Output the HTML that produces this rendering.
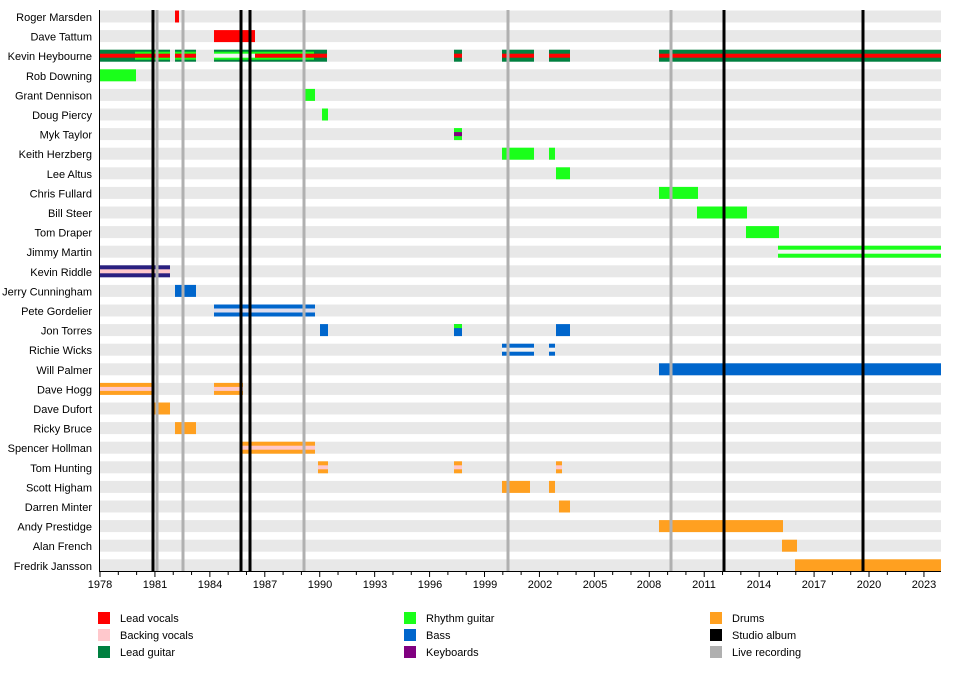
<!DOCTYPE html>
<html><head><meta charset="utf-8"><style>
body{margin:0;background:#fff;width:960px;height:670px;overflow:hidden}
svg{font-family:"Liberation Sans",Arial,sans-serif;font-size:11px}
</style></head><body>
<svg id="s" width="960" height="670" xmlns="http://www.w3.org/2000/svg">
<g id="bg"></g><g id="bars"></g><g id="vl"></g>
<g text-anchor="end" fill="#000">
<text x="92" y="21">Roger Marsden</text>
<text x="92" y="40.6">Dave Tattum</text>
<text x="92" y="60.2">Kevin Heybourne</text>
<text x="92" y="79.8">Rob Downing</text>
<text x="92" y="99.4">Grant Dennison</text>
<text x="92" y="119">Doug Piercy</text>
<text x="92" y="138.6">Myk Taylor</text>
<text x="92" y="158.2">Keith Herzberg</text>
<text x="92" y="177.8">Lee Altus</text>
<text x="92" y="197.4">Chris Fullard</text>
<text x="92" y="217">Bill Steer</text>
<text x="92" y="236.6">Tom Draper</text>
<text x="92" y="256.2">Jimmy Martin</text>
<text x="92" y="275.8">Kevin Riddle</text>
<text x="92" y="295.4">Jerry Cunningham</text>
<text x="92" y="315">Pete Gordelier</text>
<text x="92" y="334.6">Jon Torres</text>
<text x="92" y="354.2">Richie Wicks</text>
<text x="92" y="373.8">Will Palmer</text>
<text x="92" y="393.4">Dave Hogg</text>
<text x="92" y="413">Dave Dufort</text>
<text x="92" y="432.6">Ricky Bruce</text>
<text x="92" y="452.2">Spencer Hollman</text>
<text x="92" y="471.8">Tom Hunting</text>
<text x="92" y="491.4">Scott Higham</text>
<text x="92" y="511">Darren Minter</text>
<text x="92" y="530.6">Andy Prestidge</text>
<text x="92" y="550.2">Alan French</text>
<text x="92" y="569.8">Fredrik Jansson</text>
</g>
<g id="ax"></g>
<g text-anchor="middle">
<text x="100" y="588">1978</text><text x="155" y="588">1981</text><text x="210" y="588">1984</text><text x="265" y="588">1987</text><text x="320" y="588">1990</text><text x="375" y="588">1993</text><text x="430" y="588">1996</text><text x="485" y="588">1999</text><text x="540" y="588">2002</text><text x="595" y="588">2005</text><text x="649" y="588">2008</text><text x="704" y="588">2011</text><text x="759" y="588">2014</text><text x="814" y="588">2017</text><text x="869" y="588">2020</text><text x="924" y="588">2023</text>
</g>
<g>
<rect x="98" y="612" width="12" height="12" fill="#ff0000"/><text x="120" y="622">Lead vocals</text>
<rect x="98" y="629" width="12" height="12" fill="#ffc8cc"/><text x="120" y="639">Backing vocals</text>
<rect x="98" y="646" width="12" height="12" fill="#008040"/><text x="120" y="656">Lead guitar</text>
<rect x="404" y="612" width="12" height="12" fill="#1aff1a"/><text x="426" y="622">Rhythm guitar</text>
<rect x="404" y="629" width="12" height="12" fill="#0066cc"/><text x="426" y="639">Bass</text>
<rect x="404" y="646" width="12" height="12" fill="#800080"/><text x="426" y="656">Keyboards</text>
<rect x="710" y="612" width="12" height="12" fill="#ffa020"/><text x="732" y="622">Drums</text>
<rect x="710" y="629" width="12" height="12" fill="#000"/><text x="732" y="639">Studio album</text>
<rect x="710" y="646" width="12" height="12" fill="#b0b0b0"/><text x="732" y="656">Live recording</text>
</g>
</svg>
<script>
var NS="http://www.w3.org/2000/svg";
function R(g,x,y,w,h,f){var r=document.createElementNS(NS,"rect");r.setAttribute("x",x);r.setAttribute("y",y);r.setAttribute("width",w);r.setAttribute("height",h);r.setAttribute("fill",f);document.getElementById(g).appendChild(r);}
function yc(i){return 16.5+i*19.6;}
for(var i=0;i<29;i++)R("bg",100,yc(i)-6,841,12,"#e8e8e8");
var RD="#ff0000",PK="#ffc8cc",DG="#008040",LM="#1aff1a",BL="#0066cc",PU="#800080",OR="#ffa020",NV="#2a2080",W="#f4f4f4";
function B(i,a,b,c,inner,ih){R("bars",a,yc(i)-6,b-a,12,c);if(inner){R("bars",a,yc(i)-(ih||4)/2,b-a,ih||4,inner);}}
B(0,175,179,RD);B(1,214,255,RD);
// Kevin H
B(2,100,170,DG);R("bars",135,yc(2)-4,35,8,LM);R("bars",100,yc(2)-2,70,4,RD);
B(2,175,196,DG);R("bars",175,yc(2)-4,21,8,LM);R("bars",175,yc(2)-2,21,4,RD);
B(2,214,327,DG);R("bars",214,yc(2)-4,100,8,LM);R("bars",214,yc(2)-2,41,4,W);R("bars",255,yc(2)-2,72,4,RD);
[[454,462],[502,534],[549,570],[659,941]].forEach(function(s){B(2,s[0],s[1],DG,RD,4);});
B(3,100,136,LM);B(4,303,315,LM);B(5,322,328,LM);B(6,454,462,LM,PU,4);
B(7,502,534,LM);B(7,549,555,LM);B(8,556,570,LM);B(9,659,698,LM);B(10,697,747,LM);B(11,746,779,LM);
B(12,778,941,LM,W,4);
B(13,100,170,NV,PK,4);B(14,175,196,BL);B(15,214,315,BL,"#dde",4);
B(16,320,328,BL);B(16,454,462,BL);R("bars",454,yc(16)-6,8,4,LM);B(16,556,570,BL);
B(17,502,534,BL,W,4);B(17,549,555,BL,W,4);B(18,659,941,BL);
B(19,100,153,OR,PK,4);B(19,214,243,OR,PK,4);B(20,153,170,OR);B(21,175,196,OR);B(22,242,315,OR,PK,4);
B(23,318,328,OR,PK,4);B(23,454,462,OR,PK,4);B(23,556,562,OR,PK,4);
B(24,502,530,OR);B(24,549,555,OR);B(25,559,570,OR);B(26,659,783,OR);B(27,782,797,OR);B(28,795,941,OR);
// vertical lines
[[157,"#b0b0b0"],[183,"#b0b0b0"],[304,"#b0b0b0"],[508,"#b0b0b0"],[671,"#b0b0b0"],[153,"#000"],[241,"#000"],[250,"#000"],[724,"#000"],[863,"#000"]].forEach(function(v){R("vl",v[0]-1.5,10,3,561,v[1]);});
// axes
R("ax",99,10,1,562,"#000");R("ax",99,571,842,1,"#000");
for(var y=1978;y<=2024;y++){var x=100+(y-1978)*18.31;if(x>941)break;var big=(y-1978)%3==0;R("ax",x-0.5,572,1,big?5:3,"#000");}
</script>
</body></html>
